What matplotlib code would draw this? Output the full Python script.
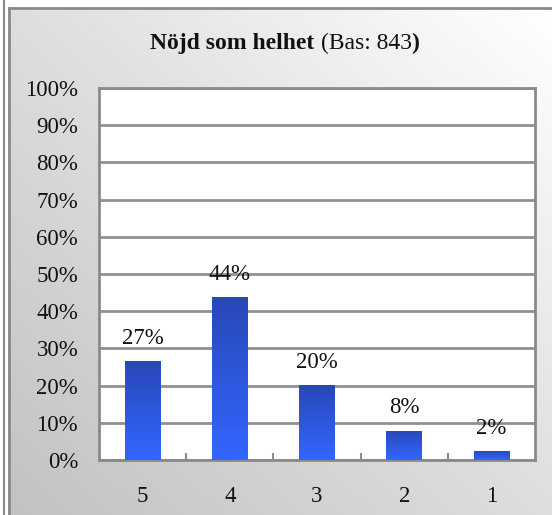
import matplotlib
matplotlib.use("Agg")
import matplotlib.pyplot as plt
import numpy as np
from matplotlib.colors import LinearSegmentedColormap
from matplotlib.lines import Line2D

# data
kategorier = ["5", "4", "3", "2", "1"]
andelar = [26.6, 43.8, 20.1, 7.8, 2.4]
etiketter = ["27%", "44%", "20%", "8%", "2%"]
y_ticks = [0, 10, 20, 30, 40, 50, 60, 70, 80, 90, 100]

W, H = 552, 515
plt.rcParams["font.family"] = ["Liberation Serif", "DejaVu Serif"]

fig = plt.figure(figsize=(W / 100, H / 100), dpi=100)
fig.patch.set_facecolor("white")

# gray diagonal gradient background inside the frame (white top-right, gray bottom-left)
bg = fig.add_axes([8 / W, 0, 1 - 8 / W, 1 - 8 / H], zorder=0)
xx, yy = np.meshgrid(np.linspace(0, 1, 300), np.linspace(0, 1, 300))
grad = ((1 - xx) + yy) / 2
bg_cmap = LinearSegmentedColormap.from_list("bg", ["#ffffff", "#dedede", "#c2c2c2"])
bg.imshow(grad, cmap=bg_cmap, aspect="auto", extent=[0, 1, 0, 1], origin="upper")
bg.axis("off")

# frame lines
frame_col = "#8a8a8a"
fig.add_artist(Line2D([4 / W, 4 / W], [0, 1], color=frame_col, lw=1.5, transform=fig.transFigure))
fig.add_artist(Line2D([8.5 / W, 8.5 / W], [0, 1 - 8 / H], color=frame_col, lw=2, transform=fig.transFigure))
fig.add_artist(Line2D([8.5 / W, 1], [1 - 8 / H, 1 - 8 / H], color=frame_col, lw=2, transform=fig.transFigure))

ax = fig.add_axes([99 / W, (H - 460) / H, 436 / W, 372 / H], zorder=2)
ax.set_facecolor("white")

x = np.arange(len(kategorier))
bars = ax.bar(x, andelar, width=0.41, color="none", zorder=3)

bar_cmap = LinearSegmentedColormap.from_list("bar", ["#2848b8", "#3366ff"])
grad_bar = np.linspace(0, 1, 100).reshape(-1, 1)
for b in bars:
    x0, w, h = b.get_x(), b.get_width(), b.get_height()
    im = ax.imshow(grad_bar, cmap=bar_cmap, aspect="auto",
                   extent=[x0, x0 + w, 0, h], origin="upper", zorder=3)
    im.set_clip_path(b)

for xi, v, lab in zip(x, andelar, etiketter):
    ax.annotate(lab, (xi, v), xytext=(0, 9), textcoords="offset points",
                ha="center", va="bottom", fontsize=16.5, color="#111111", zorder=4)

ax.set_xlim(-0.5, len(kategorier) - 0.5)
ax.set_ylim(0, 100)
ax.set_yticks(y_ticks)
ax.set_yticklabels([f"{t}%" for t in y_ticks], fontsize=16.5, color="#111111")
ax.set_xticks(x)
ax.set_xticklabels(kategorier, fontsize=16.5, color="#111111")
ax.set_xticks(np.arange(0.5, len(kategorier) - 0.5), minor=True)
ax.tick_params(axis="x", which="major", length=0, pad=19)
ax.tick_params(axis="x", which="minor", length=5, direction="in", color=frame_col, width=1.5)
ax.tick_params(axis="y", length=0, pad=15)

ax.grid(axis="y", color="#909090", lw=2, zorder=1)
ax.set_axisbelow(True)
for s in ax.spines.values():
    s.set_color(frame_col)
    s.set_linewidth(2)

# title: bold + regular + bold pieces
fig.canvas.draw()
r = fig.canvas.get_renderer()
parts = [("Nöjd som helhet ", "bold"), ("(Bas: 843", "normal"), (")", "bold")]
texts = []
for s, wgt in parts:
    texts.append(fig.text(0, 1 - 43 / H, s, fontsize=17, fontweight=wgt,
                          ha="left", va="center", color="#111111"))
widths = [t.get_window_extent(r).width for t in texts]
start = 285 - sum(widths) / 2
for t, wd in zip(texts, widths):
    t.set_x(start / W)
    start += wd

fig.savefig("out.png", dpi=100)
